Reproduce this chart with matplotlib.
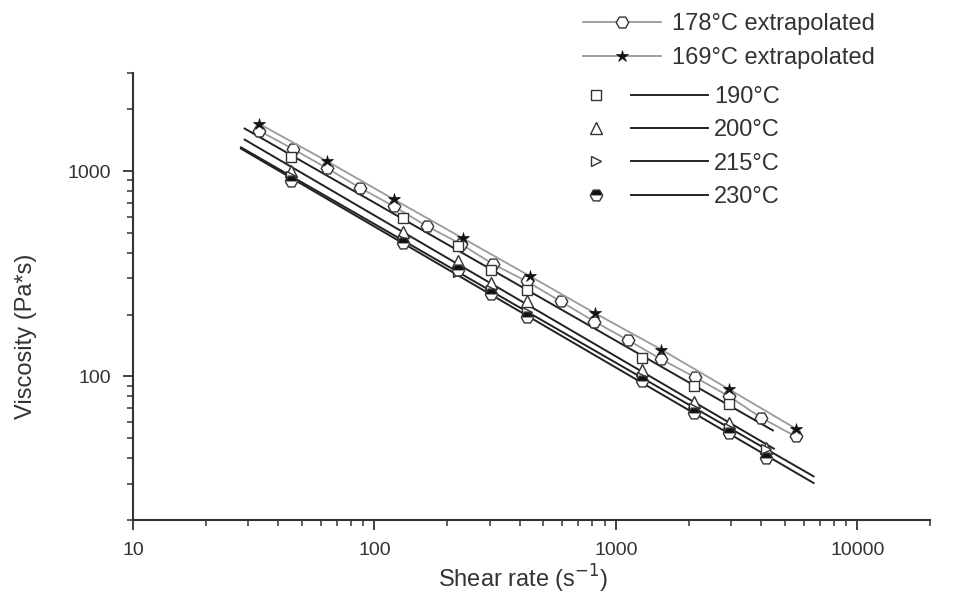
import numpy as np
import matplotlib.pyplot as plt
from matplotlib.lines import Line2D
from matplotlib.legend_handler import HandlerBase
from matplotlib.ticker import LogLocator, NullFormatter, FixedLocator, FixedFormatter

plt.rcParams['font.family'] = ['Liberation Sans', 'DejaVu Sans']

# extrapolated master curves
x178 = [33.4, 46, 63.4, 87.5, 120, 165, 228, 310, 428, 590, 815, 1125, 1545, 2130, 2944, 3990, 5560]
y178 = [1567, 1280, 1034, 826, 674, 539, 441, 352, 290, 232, 185, 150, 121, 99, 80, 63, 51]
x169 = [33.4, 63.4, 120, 232, 440, 820, 1545, 2944, 5560]
y169 = [1694, 1119, 729, 471, 308, 203, 135, 86.5, 55.7]

# measured data
rate = [45, 131, 222, 303, 430, 1280, 2115, 2945, 4180]
visc190 = [1170, 590, 430, 330, 262, 123, 90, 73]
visc200 = [1000, 505, 365, 285, 232, 108, 75, 59, 45]
visc215 = [945, 460, 322, 262, 206, 99, 70, 56, 44.5]
visc230 = [894, 445, 330, 251, 194, 95, 66, 53, 40]

# range over which each power-law fit is drawn
fit_start = [29, 29, 28, 28]
fit_end = [4470, 4510, 6590, 6590]

labels = ['190°C', '200°C', '215°C', '230°C']
markers = ['s', '^', '>', 'H']
sizes = [7, 8.5, 7.5, 9]

gray = '#9a9a9a'
dark = '#222222'
txt = '#333333'

fig = plt.figure(figsize=(9.58, 5.94), dpi=100)
ax = fig.add_axes([133 / 958, 1 - 520 / 594, (930 - 133) / 958, (520 - 73) / 594])

l178, = ax.plot(x178, y178, '-', color=gray, lw=1.3, marker='H', ms=9, mfc='white',
                mec='#333333', mew=1.0, zorder=3)
l169, = ax.plot(x169, y169, '-', color=gray, lw=1.3, marker='*', ms=9, mfc='#111111',
                mec='#111111', mew=0.5, zorder=4)

series = [visc190, visc200, visc215, visc230]
pairs = []
for i, v in enumerate(series):
    xr = np.array(rate[:len(v)])
    vr = np.array(v)
    k, b = np.polyfit(np.log10(xr), np.log10(vr), 1)
    xf = np.array([fit_start[i], fit_end[i]])
    ln, = ax.plot(xf, 10 ** (b + k * np.log10(xf)), '-', color=dark, lw=1.4, zorder=2)
    if markers[i] == 'H':
        mk, = ax.plot(xr, vr, ls='none', marker='H', ms=sizes[i], fillstyle='top',
                      mfc='#111111', mfcalt='white', mec='#333333', mew=1.0, zorder=5)
    else:
        mk, = ax.plot(xr, vr, ls='none', marker=markers[i], ms=sizes[i], mfc='white',
                      mec='#333333', mew=1.0, zorder=5)
    pairs.append((mk, ln))

ax.set_xscale('log')
ax.set_yscale('log')
ax.set_xlim(10, 20000)
ax.set_ylim(20, 3000)

ax.xaxis.set_major_locator(FixedLocator([10, 100, 1000, 10000]))
ax.xaxis.set_major_formatter(FixedFormatter(['10', '100', '1000', '10000']))
ax.xaxis.set_minor_locator(LogLocator(base=10, subs=np.arange(2, 10)))
ax.xaxis.set_minor_formatter(NullFormatter())
ax.yaxis.set_major_locator(FixedLocator([100, 1000]))
ax.yaxis.set_major_formatter(FixedFormatter(['100', '1000']))
ax.yaxis.set_minor_locator(LogLocator(base=10, subs=np.arange(2, 10)))
ax.yaxis.set_minor_formatter(NullFormatter())

for s in ['top', 'right']:
    ax.spines[s].set_visible(False)
for s in ['left', 'bottom']:
    ax.spines[s].set_linewidth(1.5)
    ax.spines[s].set_color('#333333')
ax.tick_params(which='major', direction='out', length=7, width=1.3, labelsize=14,
               colors='#333333', labelcolor=txt, pad=9)
ax.tick_params(which='minor', direction='out', length=4.5, width=1.1, colors='#333333')

ax.set_xlabel('Shear rate (s$^{-1}$)', fontsize=17, color=txt)
ax.xaxis.set_label_coords(0.49, -0.095)
ax.set_ylabel('Viscosity (Pa*s)', fontsize=17, color=txt)
ax.yaxis.set_label_coords(-0.12, 0.41)


class MarkerThenLine(HandlerBase):
    def create_artists(self, legend, orig_handle, xdescent, ydescent, width, height,
                       fontsize, trans):
        mk, ln = orig_handle
        y = height / 2 - ydescent
        x0 = -xdescent
        dot = Line2D([x0 + 0.1 * width], [y], ls='none', marker=mk.get_marker(),
                     ms=mk.get_markersize(), fillstyle=mk.get_fillstyle(),
                     mfc=mk.get_markerfacecolor(), mfcalt=mk.get_markerfacecoloralt(),
                     mec=mk.get_markeredgecolor(), mew=mk.get_markeredgewidth(),
                     transform=trans)
        seg = Line2D([x0 + 0.38 * width, x0 + width], [y, y], color=ln.get_color(),
                     lw=ln.get_linewidth(), transform=trans)
        return [dot, seg]


leg1 = fig.legend([l178, l169], ['178°C extrapolated', '169°C extrapolated'],
                  loc='upper left', bbox_to_anchor=(583 / 958, 1 - 13 / 594),
                  frameon=False, fontsize=17, handlelength=3.3, handletextpad=0.45,
                  borderpad=0, borderaxespad=0, labelspacing=0.52, numpoints=1)
for t in leg1.get_texts():
    t.set_color(txt)
leg2 = fig.legend(pairs, labels, handler_map={tuple: MarkerThenLine()},
                  loc='upper left', bbox_to_anchor=(583 / 958, 1 - 86 / 594),
                  frameon=False, fontsize=17, handlelength=5.3, handletextpad=0.25,
                  borderpad=0, borderaxespad=0, labelspacing=0.48)
for t in leg2.get_texts():
    t.set_color(txt)

fig.savefig('out.png', dpi=100)
